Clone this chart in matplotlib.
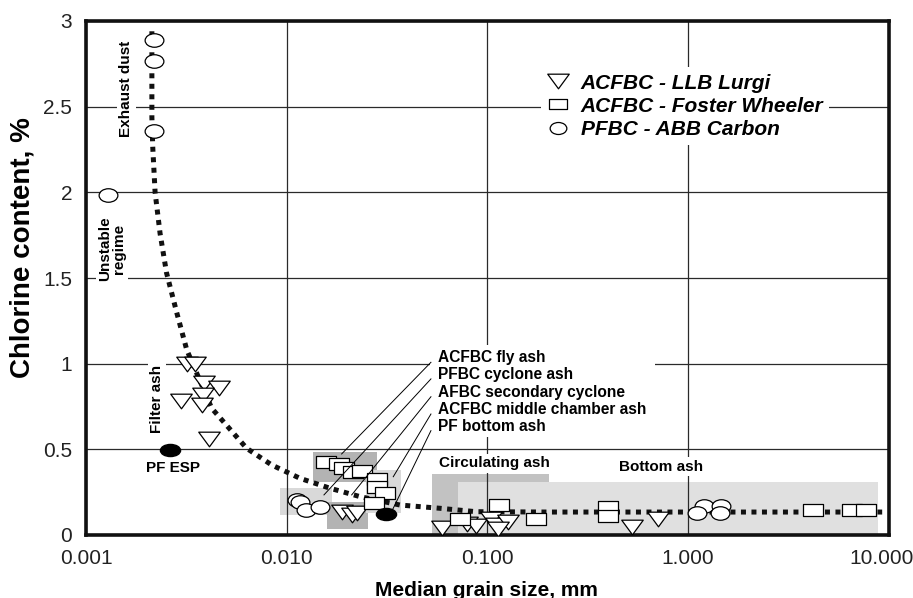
import matplotlib
matplotlib.use("Agg")
import matplotlib.pyplot as plt
from matplotlib.path import Path
from matplotlib.transforms import Affine2D, ScaledTranslation
from matplotlib.lines import Line2D
from matplotlib.patches import Rectangle
from matplotlib.ticker import NullLocator, FixedLocator, FixedFormatter

plt.rcParams['font.family'] = ['Liberation Sans', 'DejaVu Sans']

# ---------------- data ----------------
lurgi_x = [0.00318, 0.00349, 0.00387, 0.00460, 0.00297, 0.00383, 0.00378, 0.00410,
           0.0189, 0.0212, 0.0225, 0.0594, 0.079, 0.088, 0.104, 0.110, 0.127, 0.113,
           0.525, 0.710]
lurgi_y = [1.00, 1.00, 0.89, 0.86, 0.78, 0.82, 0.76, 0.56,
           0.135, 0.115, 0.13, 0.04, 0.065, 0.05, 0.092, 0.058, 0.076, 0.035,
           0.048, 0.095]

foster_x = [0.01573, 0.01833, 0.01942, 0.02148, 0.02385, 0.02835, 0.02806, 0.03078,
            0.02716, 0.0730, 0.1140, 0.1743, 0.398, 0.398, 4.22, 6.57, 7.69]
foster_y = [0.426, 0.412, 0.392, 0.370, 0.372, 0.324, 0.282, 0.247,
            0.185, 0.095, 0.177, 0.092, 0.165, 0.109, 0.143, 0.144, 0.144]

abb_x = [0.002194, 0.002194, 0.002194, 0.001284, 0.01132, 0.01165, 0.01245, 0.01466,
         1.203, 1.459, 1.114, 1.442]
abb_y = [2.89, 2.767, 2.357, 1.985, 0.204, 0.191, 0.145, 0.166,
         0.172, 0.172, 0.127, 0.126]

pf_x = [0.00263, 0.03135]
pf_y = [0.496, 0.120]

trend_x = [0.00213, 0.00213, 0.00215, 0.00221, 0.00234, 0.00252, 0.00283, 0.00318,
           0.00423, 0.00632, 0.00842, 0.01165, 0.01644, 0.0232, 0.0367, 0.058,
           0.088, 0.2, 1.0, 9.3]
trend_y = [2.94, 2.44, 2.27, 2.00, 1.76, 1.53, 1.30, 1.08,
           0.74, 0.506, 0.409, 0.331, 0.273, 0.224, 0.175, 0.156,
           0.136, 0.134, 0.134, 0.134]

# shaded regions (x0, x1, y0, y1)
region_x0 = [0.0530, 0.0714, 0.0135, 0.00927, 0.0159, 0.0249]
region_x1 = [0.2028, 8.83, 0.0282, 0.0168, 0.0254, 0.0371]
region_y0 = [0.0, 0.0, 0.309, 0.117, 0.035, 0.128]
region_y1 = [0.356, 0.309, 0.485, 0.274, 0.193, 0.379]
region_colors = ['#c2c2c2', '#e0e0e0', '#b3b3b3', '#d9d9d9', '#b3b3b3', '#d9d9d9']

# annotation labels and leader-line targets
ann_labels = ['ACFBC fly ash', 'PFBC cyclone ash', 'AFBC secondary cyclone',
              'ACFBC middle chamber ash', 'PF bottom ash']
ann_text_y = [1.008, 0.911, 0.807, 0.706, 0.609]
ann_target_x = [0.0188, 0.01535, 0.0211, 0.0340, 0.0338]
ann_target_y = [0.473, 0.234, 0.234, 0.340, 0.150]

x_ticks = [0.001, 0.01, 0.1, 1, 10]
x_ticklabels = ['0.001', '0.010', '0.100', '1.000', '10.000']
y_ticks = [0, 0.5, 1, 1.5, 2, 2.5, 3]
y_ticklabels = ['0', '0.5', '1', '1.5', '2', '2.5', '3']

legend_labels = ['ACFBC - LLB Lurgi', 'ACFBC - Foster Wheeler', 'PFBC - ABB Carbon']


# ---------------- marker shapes ----------------
def closed(verts):
    return Path(list(verts) + [verts[0]], closed=True)


TRI = closed([(-1, 0.68), (1, 0.68), (0, -0.68)])
RECT = closed([(-1, -0.62), (1, -0.62), (1, 0.62), (-1, 0.62)])
ELL = Affine2D().scale(1, 0.72).transform_path(Path.unit_circle())
ELL_FLAT = Affine2D().scale(1, 0.6).transform_path(Path.unit_circle())

fig = plt.figure(figsize=(9.13, 5.98), dpi=100)
ax = fig.add_axes([86 / 913, 63 / 598, 802.5 / 913, 514 / 598])
ax.set_xscale('log')
ax.set_xlim(0.001, 10)
ax.set_ylim(0, 3)

for x0, x1, y0, y1, c in zip(region_x0, region_x1, region_y0, region_y1, region_colors):
    ax.add_patch(Rectangle((x0, y0), x1 - x0, y1 - y0, facecolor=c,
                           edgecolor='none', zorder=0.2))

ax.set_axisbelow(True)
ax.grid(True, which='major', color='#2a2a2a', lw=0.9)
ax.xaxis.set_major_locator(FixedLocator(x_ticks))
ax.xaxis.set_major_formatter(FixedFormatter(x_ticklabels))
ax.xaxis.set_minor_locator(NullLocator())
ax.yaxis.set_major_locator(FixedLocator(y_ticks))
ax.yaxis.set_major_formatter(FixedFormatter(y_ticklabels))
ax.tick_params(length=0, labelsize=15, labelcolor='#222222', pad=10)
for s in ax.spines.values():
    s.set_linewidth(2.6)
    s.set_color('#111111')

# trend curve
ax.plot(trend_x, trend_y, color='#111111', lw=3.6, linestyle=(0, (1.0, 1.1)),
        dash_capstyle='butt', zorder=2)

mk = dict(linestyle='none', markerfacecolor='white', markeredgecolor='black',
          markeredgewidth=0.9, zorder=3)
ax.plot(lurgi_x, lurgi_y, marker=TRI, markersize=15.5, **mk)
ax.plot(foster_x, foster_y, marker=RECT, markersize=14, **mk)
ax.plot(abb_x, abb_y, marker=ELL, markersize=13.5, **mk)
ax.plot(pf_x, pf_y, marker=ELL_FLAT, markersize=14.5, linestyle='none',
        markerfacecolor='black', markeredgecolor='black', zorder=3)

# annotation block
ax.add_patch(Rectangle((0.0518, 0.572), 0.684 - 0.0518, 1.109 - 0.572,
                       facecolor='white', edgecolor='none', zorder=2.6))
for lab, ty, tx2, ty2 in zip(ann_labels, ann_text_y, ann_target_x, ann_target_y):
    ax.plot([0.0524, tx2], [ty, ty2], color='black', lw=0.7, zorder=3.5)
    ax.text(0.0568, ty, lab, fontsize=11.2, fontweight='bold', ha='left',
            va='baseline', zorder=4)

wb = dict(facecolor='white', edgecolor='none', pad=1.5)
tk = dict(fontsize=11, fontweight='bold', ha='center', va='center', zorder=4)
ax.text(0.00159, 2.604, 'Exhaust dust', rotation=90, bbox=wb, **tk)
ax.text(0.001348, 1.670, 'Unstable\nregime', rotation=90, multialignment='center',
        linespacing=1.0, bbox=wb, **tk)
ax.text(0.00226, 0.794, 'Filter ash', rotation=90, bbox=wb, **tk)
ax.text(0.0027, 0.389, 'PF ESP', **tk)
ax.text(0.1085, 0.418, 'Circulating ash', bbox=wb, **tk)
ax.text(0.733, 0.399, 'Bottom ash', bbox=wb, **tk)

# legend
handles = [
    Line2D([], [], marker=TRI, markersize=15.5, linestyle='none',
           markerfacecolor='white', markeredgecolor='black', markeredgewidth=0.9),
    Line2D([], [], marker=RECT, markersize=12.5, linestyle='none',
           markerfacecolor='white', markeredgecolor='black', markeredgewidth=0.9),
    Line2D([], [], marker=ELL, markersize=12, linestyle='none',
           markerfacecolor='white', markeredgecolor='black', markeredgewidth=0.9),
]
leg = ax.legend(handles, legend_labels, loc='upper left', bbox_to_anchor=(0.567, 0.910),
                prop=dict(family='Liberation Sans', size=15, weight='bold', style='italic'),
                frameon=True, fancybox=False, edgecolor='none', facecolor='white',
                framealpha=1, borderpad=0.3, labelspacing=0.2, handlelength=1.0,
                handletextpad=0.6, borderaxespad=0)
leg.set_zorder(5)

fig.text(486 / 913, 1 - 590 / 598, 'Median grain size, mm', fontsize=15,
         fontweight='bold', ha='center', va='center')
fig.text(22 / 913, 1 - 248 / 598, 'Chlorine content, %', fontsize=20,
         fontweight='bold', ha='center', va='center', rotation=90)

# nudge the last x tick label left so it stays inside the figure
fig.canvas.draw()
last = ax.xaxis.get_major_ticks()[-1].label1
last.set_transform(last.get_transform() + ScaledTranslation(-0.07, 0, fig.dpi_scale_trans))

fig.savefig('out.png', dpi=100)
